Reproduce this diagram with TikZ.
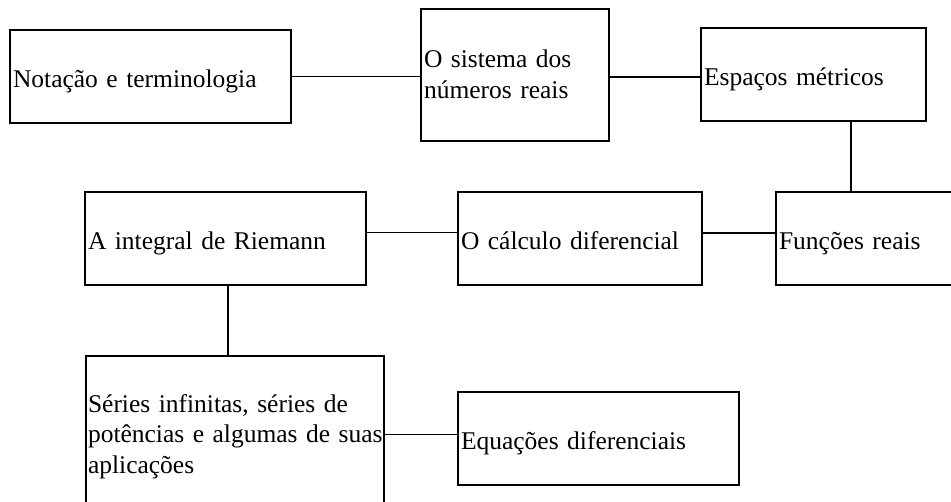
\documentclass[tikz,border=0pt]{standalone}
\usepackage{fontspec}
\setmainfont{Liberation Serif}
\newcommand{\boxfont}{\fontsize{25.5}{30.5}\selectfont}
\begin{document}
\begin{tikzpicture}[x=1pt,y=-1pt,
  box/.style={draw=black, line width=1.6pt, rectangle, inner xsep=3pt, inner ysep=0pt,
    align=left, font=\boxfont},
  one/.style={text height=29pt, text depth=6pt},
  link/.style={draw=black, line width=1.6pt}]
\useasboundingbox (0,0) rectangle (951,502);
\node[box, one, minimum width=281pt, minimum height=93pt, text width=275pt] (b1) at (150.5,76.5) {Notação e terminologia};
\node[box, minimum width=188pt, minimum height=132pt, text width=182pt, text height=19pt, text depth=33pt] (b2) at (515,75) {O sistema dos\\números reais};
\node[box, one, minimum width=225pt, minimum height=93pt, text width=219pt] (b3) at (813.5,74.5) {Espaços métricos};
\node[box, one, minimum width=184pt, minimum height=93pt, text width=178pt] (b4) at (868,238.5) {Funções reais};
\node[box, one, minimum width=244pt, minimum height=93pt, text width=238pt] (b5) at (580,238.5) {O cálculo diferencial};
\node[box, one, minimum width=281pt, minimum height=93pt, text width=275pt] (b6) at (225.5,238.5) {A integral de Riemann};
\node[box, inner xsep=2pt, minimum width=298pt, minimum height=161pt, text width=294pt] (b7) at (235,436.5) {\mbox{Séries infinitas, séries de}\\\mbox{potências e algumas de suas}\\\mbox{aplicações}};
\node[box, one, minimum width=281pt, minimum height=93pt, text width=275pt] (b8) at (598.5,438.5) {Equações diferenciais};
\draw[link] (b1.east) -- (b1.east -| b2.west);
\draw[link] ([yshift=-2pt]b2.east) -- ([yshift=-2pt]b2.east -| b3.west);
\draw[link] ([xshift=37.5pt]b3.south) -- ([xshift=37.5pt]b3.south |- b4.north);
\draw[link] ([yshift=5.5pt]b5.east) -- ([yshift=5.5pt]b5.east -| b4.west);
\draw[link] ([yshift=6pt]b6.east) -- ([yshift=6pt]b6.east -| b5.west);
\draw[link] ([xshift=2.5pt]b6.south) -- ([xshift=2.5pt]b6.south |- b7.north);
\draw[link] ([yshift=2pt]b7.east) -- ([yshift=2pt]b7.east -| b8.west);
\end{tikzpicture}
\end{document}
